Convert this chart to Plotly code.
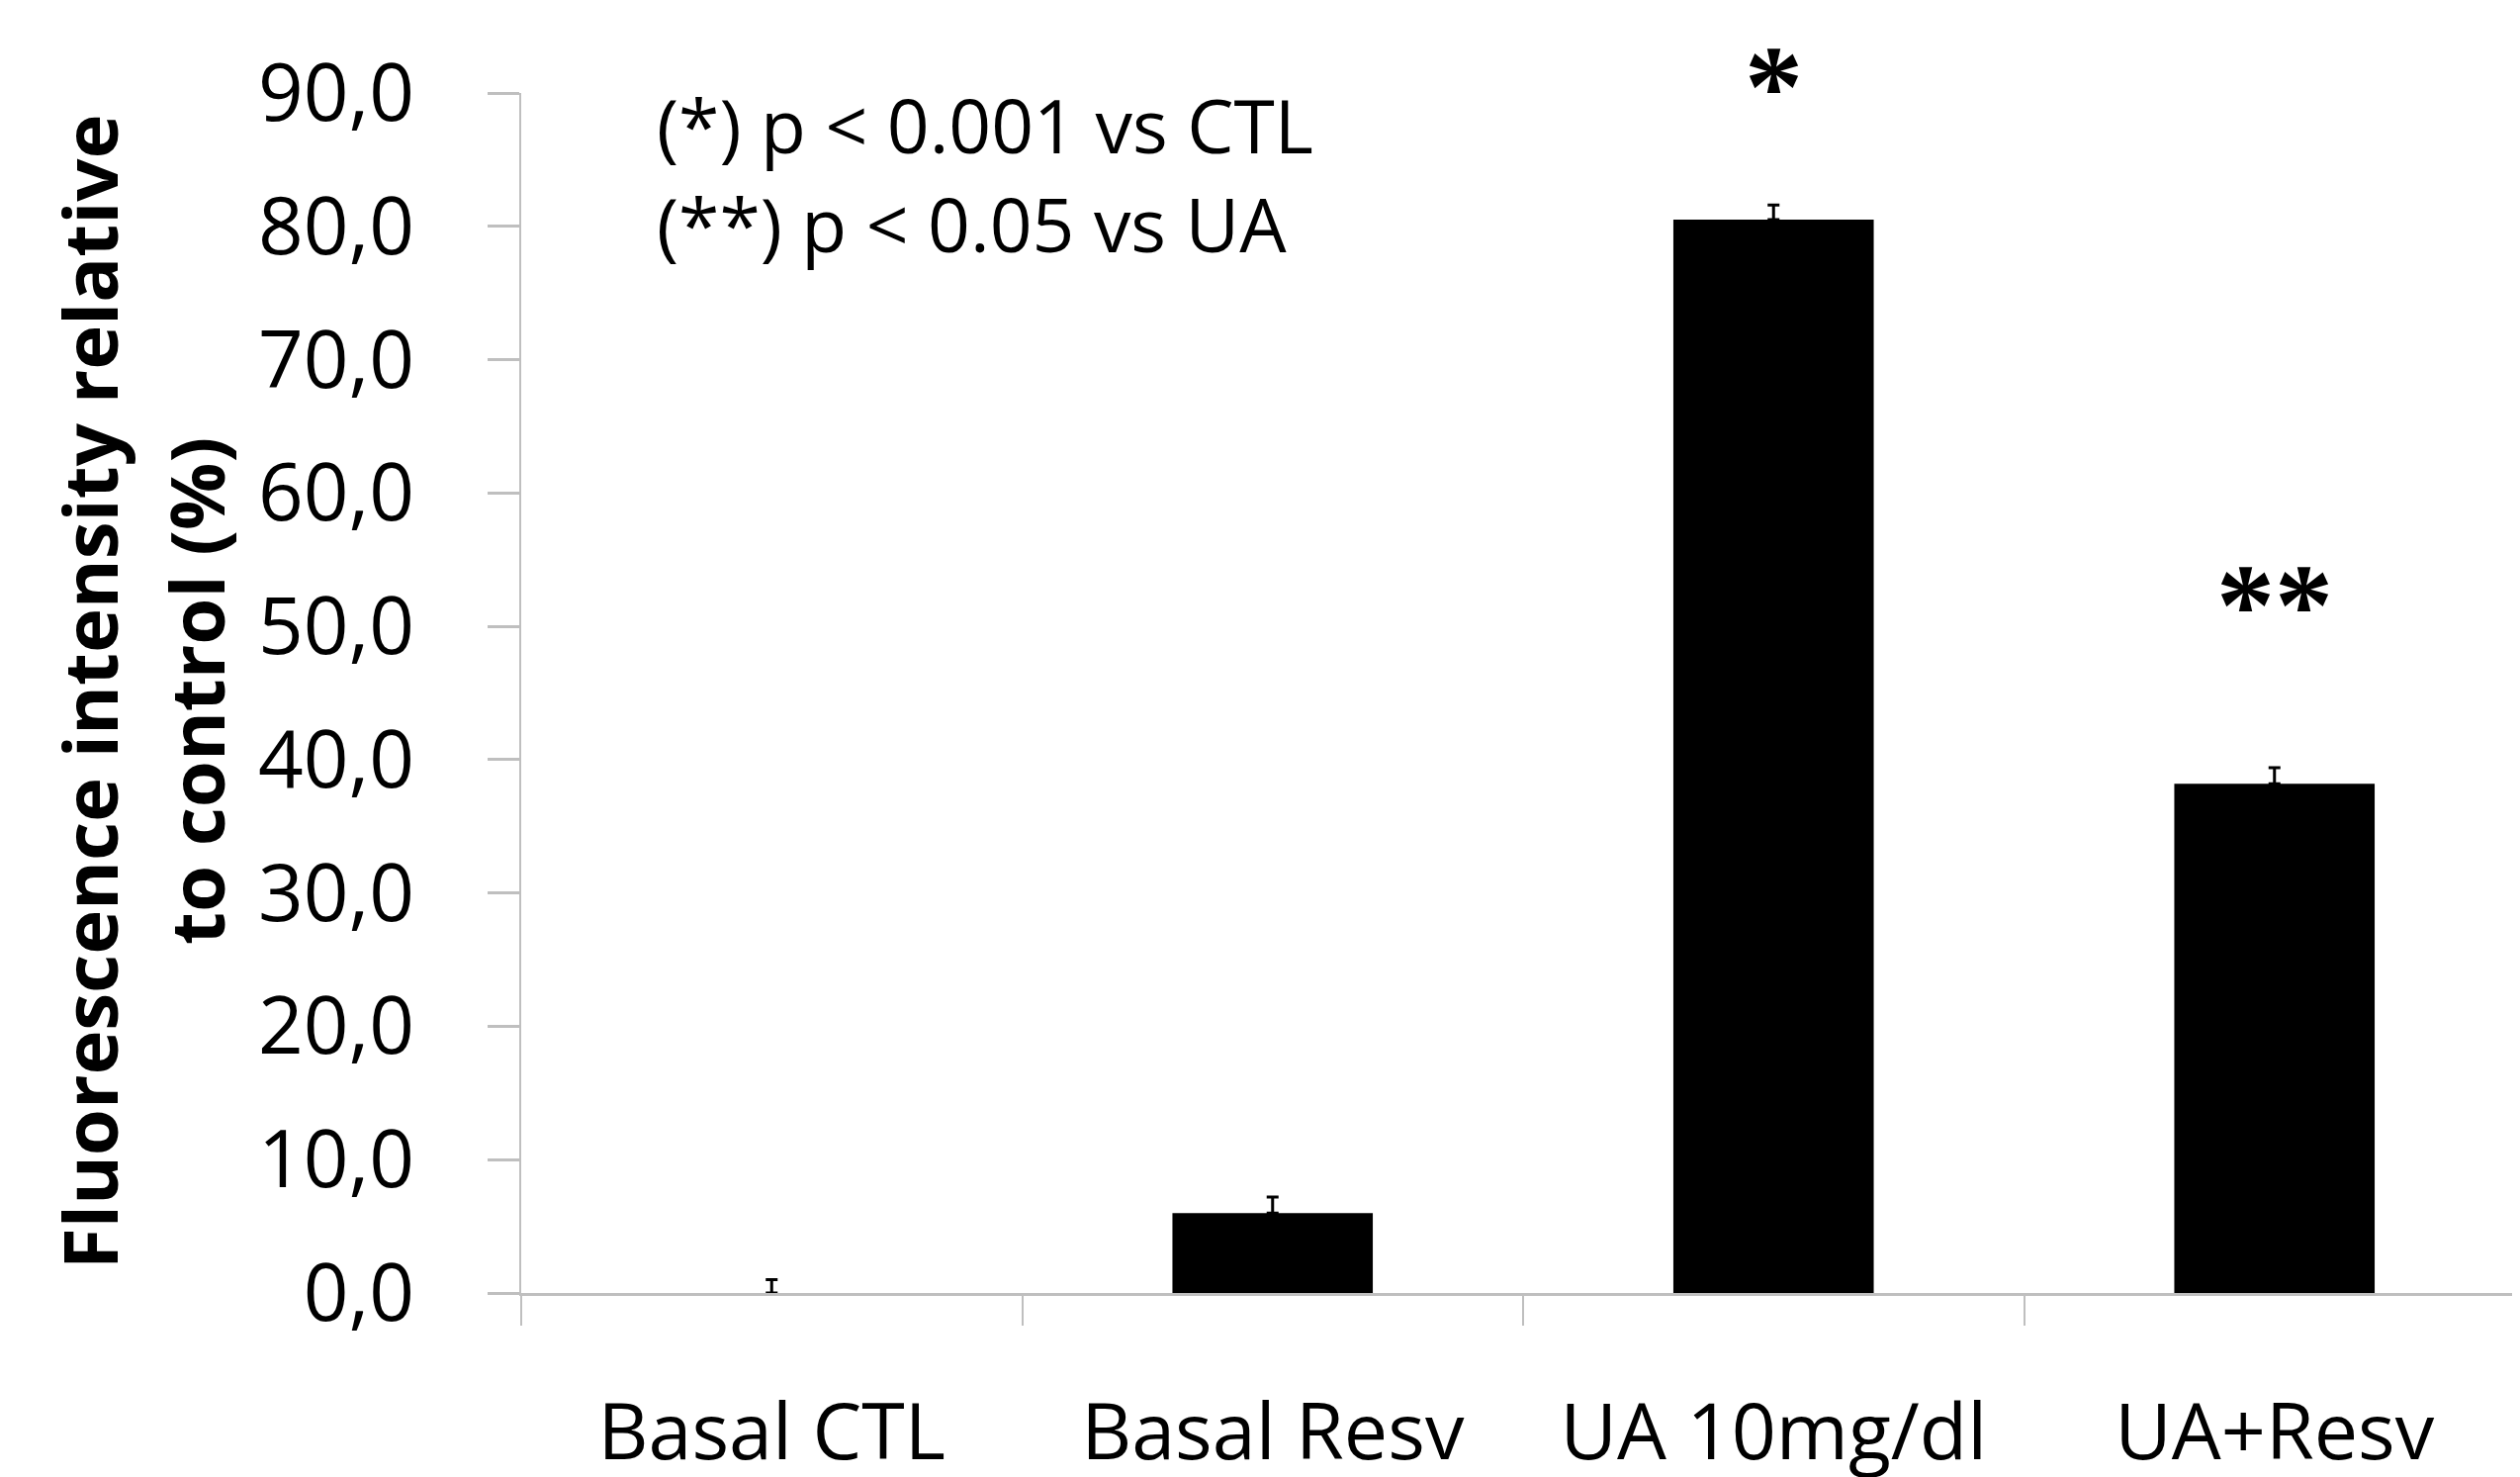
import plotly.graph_objects as go

categories = ["Basal CTL", "Basal Resv", "UA 10mg/dl", "UA+Resv"]
values = [0.0, 6.0, 80.5, 38.2]
errors = [1.0, 1.2, 1.1, 1.2]
y_tick_values = [0, 10, 20, 30, 40, 50, 60, 70, 80, 90]
y_tick_labels = ["0,0", "10,0", "20,0", "30,0", "40,0", "50,0", "60,0", "70,0", "80,0", "90,0"]
sig_marks = ["", "", "*", "**"]
sig_y = [None, None, 90.4, 51.5]
legend_lines = ["(*) p < 0.001 vs CTL", "(**) p < 0.05 vs UA"]
y_title_lines = ["Fluorescence intensity relative", "to control (%)"]

Y_MAX = 90.0
OFF = 8  # page body margin offset
W, H = 2548, 1493
ml, mr, mt, mb = 527 - OFF, 3, 94 - OFF, 1493 - (1309 - OFF)
pw = W - ml - mr
ph = H - mt - mb


def px_x(p):
    return (p - OFF - ml) / pw


def px_y(p):
    return 1 - (p - OFF - mt) / ph


fig = go.Figure()
fig.add_trace(go.Bar(
    x=categories, y=values, width=0.4,
    marker=dict(color="black", line=dict(width=0)),
    error_y=dict(type="data", array=errors, arrayminus=[0] * len(errors),
                 symmetric=False, color="black", thickness=3, width=6),
))

font_main = "Open Sans"

for c, m, yv in zip(categories, sig_marks, sig_y):
    if m:
        fig.add_annotation(x=c, y=yv / Y_MAX, xref="x", yref="paper", text="<b>" + m + "</b>",
                           showarrow=False, xanchor="center", yanchor="middle",
                           font=dict(family="Liberation Serif", size=118, color="black"))

for i, line in enumerate(legend_lines):
    fig.add_annotation(x=px_x(662), y=px_y(126 + 100 * i), xref="paper", yref="paper",
                       text=line, showarrow=False, xanchor="left", yanchor="middle",
                       font=dict(family=font_main, size=75, color="black"))

for i, line in enumerate(y_title_lines):
    fig.add_annotation(x=px_x(89 + 108 * i), y=px_y(700), xref="paper", yref="paper",
                       text="<b>" + line + "</b>", showarrow=False, textangle=-90,
                       xanchor="center", yanchor="middle", align="center",
                       font=dict(family=font_main, size=76, color="black"))

fig.update_layout(
    width=W, height=H,
    margin=dict(l=ml, r=mr, t=mt, b=mb, pad=0),
    plot_bgcolor="white", paper_bgcolor="white",
    showlegend=False,
    xaxis=dict(
        range=[-0.5, 3.5], showline=True, linecolor="#bfbfbf", linewidth=3,
        ticks="outside", tickson="boundaries", ticklen=30, tickwidth=2, tickcolor="#bfbfbf",
        showgrid=False, zeroline=False,
        tickfont=dict(family=font_main, size=79, color="black"),
        ticklabelstandoff=70,
    ),
    yaxis=dict(
        range=[0, Y_MAX], showline=True, linecolor="#bfbfbf", linewidth=2,
        ticks="outside", ticklen=32, tickwidth=3, tickcolor="#bfbfbf",
        tickvals=y_tick_values, ticktext=y_tick_labels,
        showgrid=False, zeroline=False,
        tickfont=dict(family=font_main, size=80, color="black"),
        ticklabelstandoff=58,
    ),
)

fig.write_html("out.html")
